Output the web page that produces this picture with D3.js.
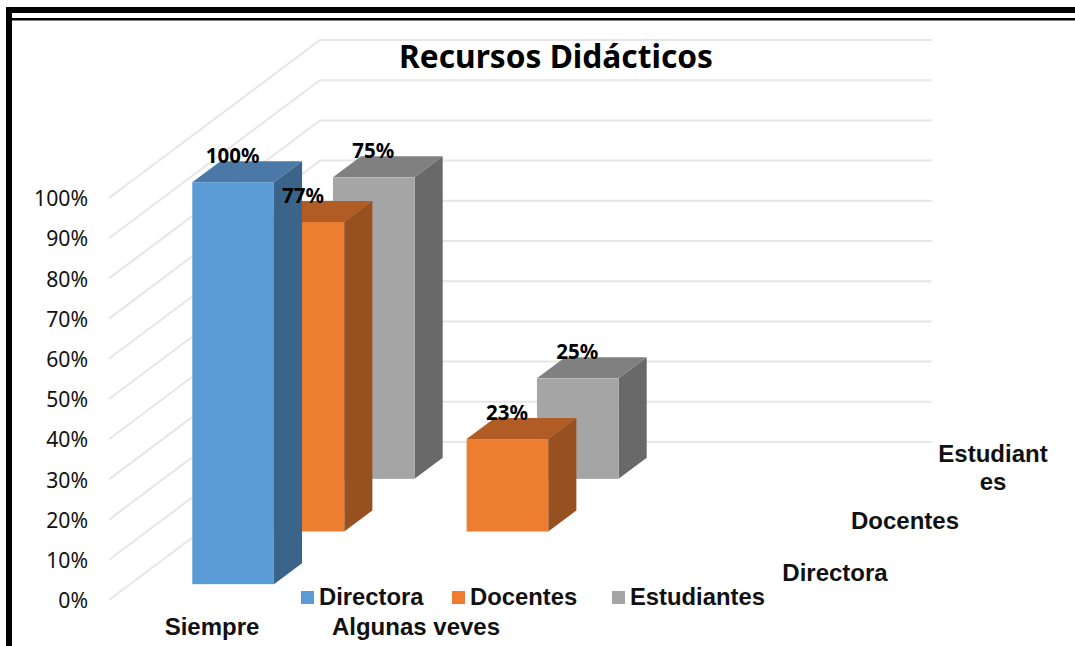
<!DOCTYPE html>
<html lang="es">
<head>
<meta charset="utf-8">
<script src="https://cdn.jsdelivr.net/npm/d3@7/dist/d3.min.js"></script>
<style>
html,body{margin:0;padding:0;background:#fff;overflow:hidden}
svg{display:block}
</style>
</head>
<body>
<svg id="chart" width="1075" height="646"></svg>
<script>
const chartTitle = "Recursos Didácticos";
const categories = ["Siempre", "Algunas veves", ""];
const seriesNames = ["Directora", "Docentes", "Estudiantes"];
const directora = [100, null, null];
const docentes = [77, 23, null];
const estudiantes = [75, 25, null];
const yTicks = [0,10,20,30,40,50,60,70,80,90,100];
const frontColors = ["#5B9BD5", "#ED7D31", "#A5A5A5"];
const topColors = ["#4A79A7", "#B15C24", "#808080"];
const sideColors = ["#3A6489", "#97501F", "#696969"];
const seriesValues = [directora, docentes, estudiantes];

const svg = d3.select("#chart");
const SANS = "'Liberation Sans', Arial, sans-serif";
const CAL = "'Noto Sans', sans-serif";

// Frame
svg.append("rect").attr("x",6).attr("y",7).attr("width",6).attr("height",639).attr("fill","#000");
svg.append("rect").attr("x",6).attr("y",7).attr("width",1069).attr("height",6).attr("fill","#000");
svg.append("rect").attr("x",12).attr("y",18).attr("width",1063).attr("height",2.5).attr("fill","#000");

// Scales: front-wall plane plus a depth projection
const y = d3.scaleLinear().domain([0,100]).range([600,198]);
const x = d3.scaleBand().domain(categories).range([110,722]).paddingInner(0.6).paddingOuter(0.3);
const depth = d3.scaleBand().domain(seriesNames).range([0,1]).paddingInner(0.6).paddingOuter(0.3);
const depthX = d3.scaleLinear().domain([0,1]).range([0,211]);
const depthY = d3.scaleLinear().domain([0,1]).range([0,-158]);
const wallRight = 822;

// Gridlines
const grid = svg.append("g").attr("fill","none").attr("stroke","#e6e6e6").attr("stroke-width",2);
grid.selectAll("path").data(yTicks).join("path")
  .attr("d", t => d3.line()([
    [x.range()[0]-1, y(t)],
    [x.range()[0]-1+depthX(1), y(t)+depthY(1)],
    [wallRight+depthX(0.52), y(t)+depthY(1)]
  ]));

// Y axis
const axisG = svg.append("g").attr("transform","translate(92,0)")
  .call(d3.axisLeft(y).tickValues(yTicks).tickSize(0).tickPadding(0).tickFormat(d => d + "%"));
axisG.select(".domain").remove();
axisG.selectAll("text").attr("font-family",CAL).attr("font-size",21.2).attr("fill","#111").attr("dy","0.36em").attr("x",-4);

// Bars: painted back to front
const bars = [];
seriesNames.forEach((s,i) => categories.forEach((c,j) => {
  if (seriesValues[i][j] != null) bars.push({s,i,c,v:seriesValues[i][j]});
}));
bars.sort((a,b) => b.i - a.i);

const barG = svg.append("g");
const w = x.bandwidth();
const dx = depthX(depth.bandwidth()), dy = depthY(depth.bandwidth());
bars.forEach(b => {
  const x0 = x(b.c) + depthX(depth(b.s));
  const off = depthY(depth(b.s));
  const yb = y(0) + off, yt = y(b.v) + off;
  const g = barG.append("g");
  g.append("path").attr("fill",sideColors[b.i])
    .attr("d", d3.line()([[x0+w,yb],[x0+w+dx,yb+dy],[x0+w+dx,yt+dy],[x0+w,yt]]) + "Z");
  g.append("path").attr("fill",topColors[b.i])
    .attr("d", d3.line()([[x0,yt],[x0+dx,yt+dy],[x0+w+dx,yt+dy],[x0+w,yt]]) + "Z");
  g.append("rect").attr("fill",frontColors[b.i])
    .attr("x",x0).attr("y",yt).attr("width",w).attr("height",yb-yt);
  b.lx = x0 + w/2 - 0.5; b.ly = yt - 19;
});

// Data labels
svg.append("g").selectAll("text").data(bars).join("text")
  .attr("x",d=>d.lx).attr("y",d=>d.ly).attr("text-anchor","middle")
  .attr("font-family",CAL).attr("font-weight",700).attr("font-size",20.5).attr("fill","#000")
  .text(d=>d.v+"%");

// Title
svg.append("text").attr("x",556).attr("y",68).attr("text-anchor","middle")
  .attr("font-family",CAL).attr("font-weight",700).attr("font-size",31.7).attr("fill","#000").text(chartTitle);

// Category labels
svg.append("g").selectAll("text").data(categories.filter(c=>c)).join("text")
  .attr("x",c=>x(c)+w/2).attr("y",635).attr("text-anchor","middle")
  .attr("font-family",SANS).attr("font-weight",700).attr("font-size",24).attr("fill","#111").text(c=>c);

// Depth-axis labels
const depthLabels = [
  {lines:["Directora"], x:835, y:581},
  {lines:["Docentes"], x:905, y:529},
  {lines:["Estudiant","es"], x:993, y:462}
];
const dl = svg.append("g").attr("font-family",SANS).attr("font-weight",700).attr("font-size",24).attr("fill","#111").attr("text-anchor","middle");
depthLabels.forEach(d => d.lines.forEach((t,k) => {
  dl.append("text").attr("x",d.x).attr("y",d.y + k*28).text(t);
}));

// Legend
const legendX = d3.scaleOrdinal().domain(seriesNames).range([301,452,612]);
const leg = svg.append("g").selectAll("g").data(seriesNames).join("g")
  .attr("transform",s=>`translate(${legendX(s)},591)`);
leg.append("rect").attr("width",13).attr("height",13).attr("fill",(s,i)=>frontColors[i]);
leg.append("text").attr("x",18).attr("y",13.5)
  .attr("font-family",SANS).attr("font-weight",700).attr("font-size",23.8).attr("fill","#111").text(s=>s);
</script>
</body>
</html>
